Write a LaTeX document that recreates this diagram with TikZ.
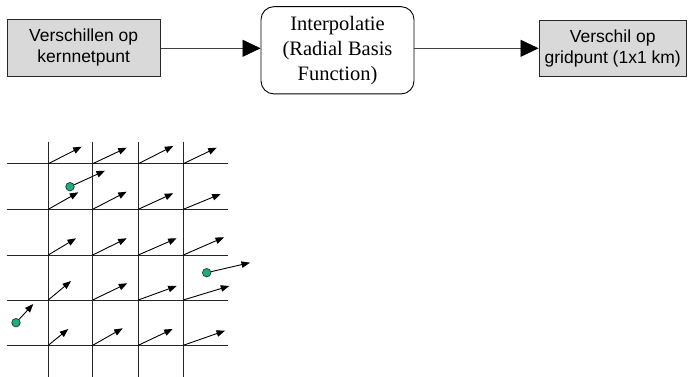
\documentclass[tikz,border=0pt]{standalone}
\usepackage{fontspec}
\setmainfont{Liberation Serif}
\setsansfont{Liberation Sans}
\usetikzlibrary{arrows.meta}
\definecolor{boxgray}{RGB}{217,217,217}
\definecolor{dotgreen}{RGB}{22,175,128}
\begin{document}
\begin{tikzpicture}[x=1pt,y=-1pt,
  sbox/.style={draw=black!85, line width=0.9pt, fill=boxgray, font=\sffamily\fontsize{17.5}{21}\selectfont, align=center, inner sep=0pt},
  rbox/.style={draw=black, line width=0.9pt, rounded corners=13pt, font=\rmfamily\fontsize{20.5}{25}\selectfont, align=center, inner sep=0pt},
  flow/.style={draw=black!75, line width=0.8pt, -{Triangle[length=18pt,width=17pt,black]}},
  gridline/.style={draw=black!85, line width=0.8pt},
  vec/.style={draw=black, line width=0.9pt, -{Triangle[length=8.5pt,width=6.5pt]}},
  kdot/.style={circle, draw=black!80, fill=dotgreen, line width=0.7pt, minimum size=8.5pt, inner sep=0pt}]
\useasboundingbox (0,0) rectangle (689,377);

% flow diagram
\node[sbox, minimum width=152.7pt, minimum height=57pt] (b1) at (83.7,47.5) {Verschillen op\\kernnetpunt};
\node[rbox, minimum width=153pt, minimum height=87.3pt] (b2) at (337.5,50.3) {Interpolatie\\(Radial Basis\\Function)};
\node[sbox, minimum width=147.5pt, minimum height=56pt] (b3) at (612.75,48) {Verschil op\\gridpunt (1x1 km)};
\draw[flow] (b1.east |- 0,48.3) -- (b2.west |- 0,48.3);
\draw[flow] (b2.east |- 0,48.3) -- (b3.west |- 0,48.3);

% grid
\foreach \gx in {48.3,92.7,138.3,183.3}
  \draw[gridline] (\gx,141.7) -- (\gx,377);
\foreach \gy in {163.7,209.3,255,300,345.3}
  \draw[gridline] (6.7,\gy) -- (228.3,\gy);

% vectors at grid points
\draw[vec] (48.3,163.7) -- (81.7,146.7);
\draw[vec] (92.7,163.7) -- (126.7,147.7);
\draw[vec] (138.3,163.7) -- (173.3,146);
\draw[vec] (183.3,163.7) -- (216.7,147.7);

\draw[vec] (48.3,209.3) -- (78.3,192.3);
\draw[vec] (92.7,209.3) -- (126.7,191.7);
\draw[vec] (138.3,209.3) -- (173.3,193.3);
\draw[vec] (183.3,209.3) -- (220.7,194);

\draw[vec] (48.3,255) -- (76,238.3);
\draw[vec] (92.7,255) -- (126.7,238.3);
\draw[vec] (138.3,255) -- (176.7,238.3);
\draw[vec] (183.3,255) -- (224,237.3);

\draw[vec] (48.3,300) -- (71,281);
\draw[vec] (92.7,300) -- (127.3,283.3);
\draw[vec] (138.3,300) -- (176.7,286);
\draw[vec] (183.3,300) -- (229.3,286);

\draw[vec] (48.3,345.3) -- (68.3,329);
\draw[vec] (92.7,345.3) -- (122.7,328.3);
\draw[vec] (138.3,345.3) -- (172.7,329);
\draw[vec] (183.3,345.3) -- (225,330.7);

% measured points
\node[kdot] (k1) at (70,186.7) {};
\node[kdot] (k2) at (206.7,272.7) {};
\node[kdot] (k3) at (16,322.7) {};
\coordinate (e1) at (105,170.7);
\coordinate (e2) at (250,262.7);
\coordinate (e3) at (33.3,304);
\draw[vec] (k1) -- (e1);
\draw[vec] (k2) -- (e2);
\draw[vec] (k3) -- (e3);
\end{tikzpicture}
\end{document}
